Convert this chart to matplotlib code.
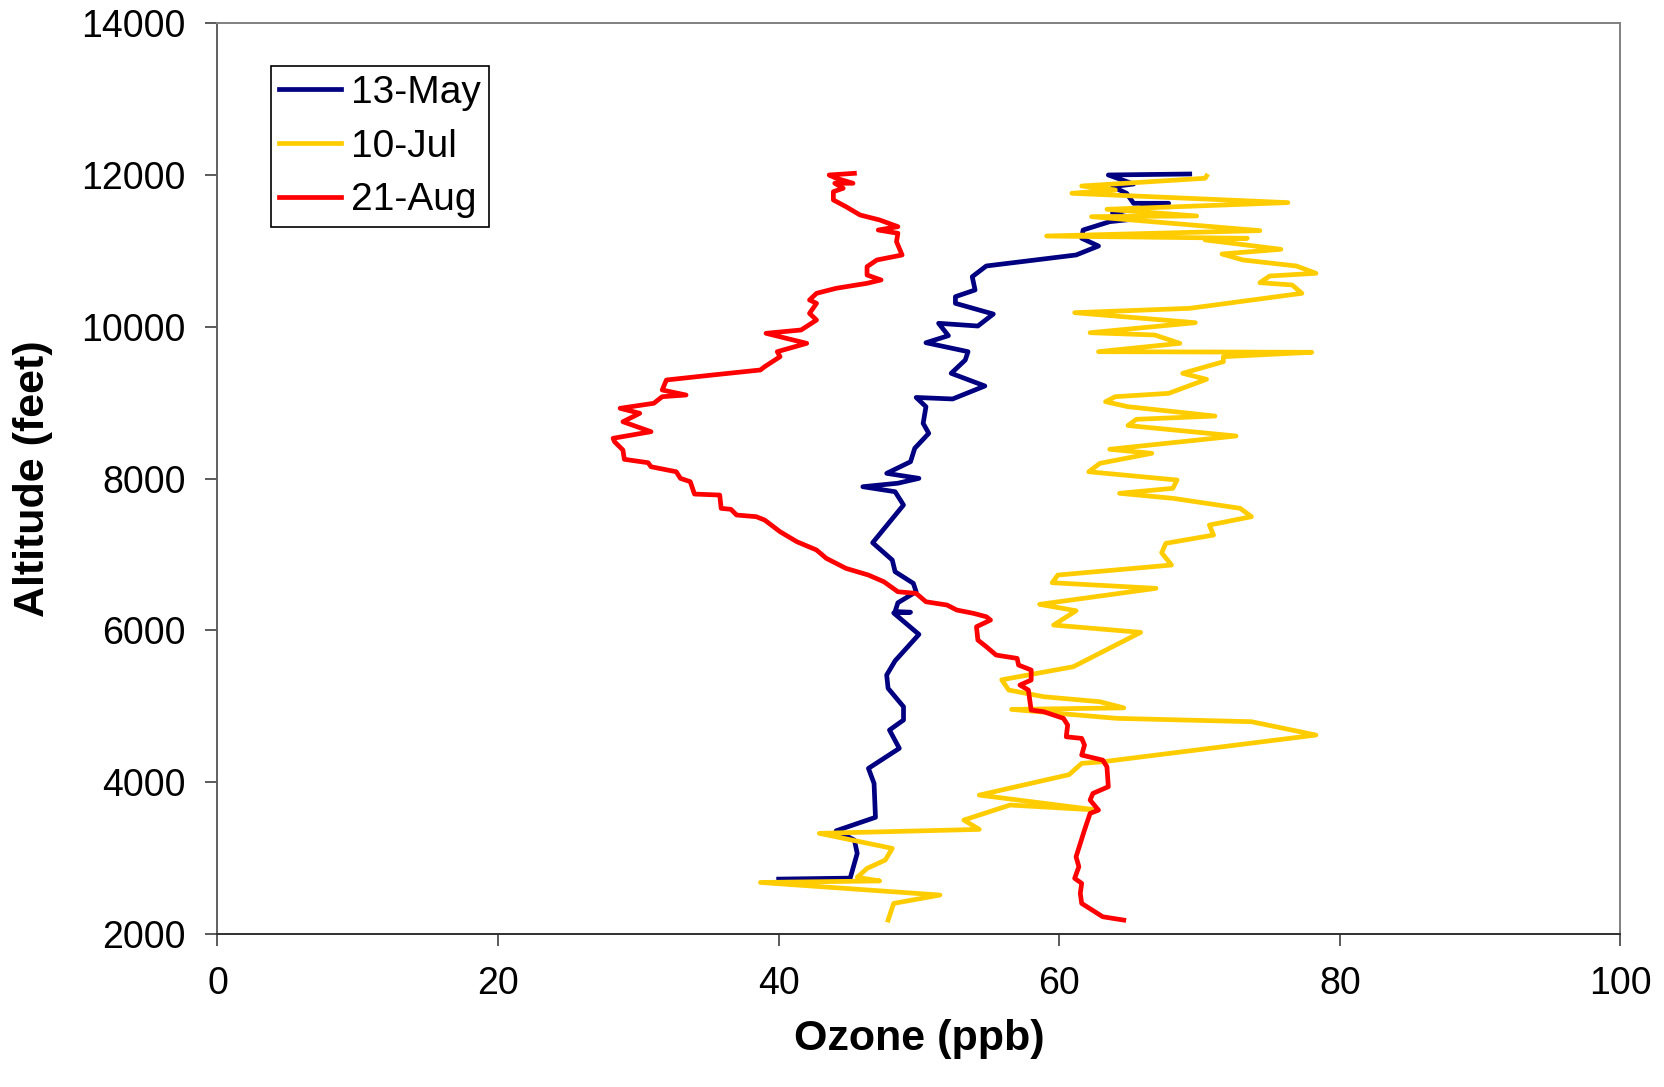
import matplotlib
matplotlib.use('Agg')
import matplotlib.pyplot as plt

plt.rcParams['font.family'] = ['Liberation Sans', 'DejaVu Sans']

# 13-May profile (altitude ft, ozone ppb)
may_alt = [2724, 2737, 3063, 3238, 3361, 3538, 3985, 4183, 4447, 4688, 4820, 4995,
           5238, 5413, 5600, 5948, 6230, 6240, 6250, 6365, 6510, 6621, 6774, 6928,
           7156, 7653, 7828, 7894, 7940, 8004, 8070, 8223, 8400, 8597, 8729, 8948,
           9070, 9050, 9221, 9388, 9563, 9673, 9791, 9884, 10047, 10011, 10169,
           10310, 10398, 10486, 10661, 10802, 10947, 11065, 11167, 11276, 11386,
           11417, 11500, 11628, 11628, 11760, 11847, 11882, 12001, 12014]
may_o3 = [40.0, 45.1, 45.6, 45.4, 44.1, 46.9, 46.8, 46.4, 48.6, 47.9, 48.9, 48.9,
          47.8, 47.7, 48.3, 50.0, 48.2, 49.4, 48.3, 48.5, 49.8, 49.6, 48.3, 48.1,
          46.7, 48.9, 48.3, 46.0, 48.5, 50.0, 47.7, 49.4, 49.7, 50.7, 50.3, 50.5,
          49.8, 52.4, 54.7, 52.3, 53.3, 53.5, 50.5, 52.1, 51.4, 54.2, 55.3,
          52.6, 52.6, 54.0, 53.8, 54.8, 61.2, 62.8, 61.6, 61.7, 63.6,
          65.2, 63.8, 67.8, 65.3, 64.8, 63.8, 65.3, 63.5, 69.3]

# 10-Jul profile
jul_alt = [2184, 2404, 2514, 2680, 2700, 2747, 2865, 2975, 3129, 3327, 3379, 3502,
           3700, 3634, 3831, 4100, 4249, 4270, 4622, 4798, 4842, 4960, 4980, 5061,
           5127, 5215, 5350, 5522, 5975, 6071, 6260, 6344, 6555, 6629, 6730, 6862,
           7024, 7148, 7257, 7389, 7499, 7609, 7741, 7807, 7873, 7982, 8091, 8202,
           8334, 8387, 8562, 8700, 8782, 8825, 8948, 9014, 9080, 9124, 9309, 9388,
           9541, 9607, 9665, 9673, 9783, 9893, 9923, 10055, 10187, 10244, 10442,
           10552, 10582, 10670, 10706, 10802, 10881, 10960, 11022, 11145, 11167,
           11197, 11268, 11452, 11461, 11549, 11637, 11760, 11804, 11856, 11958, 11988]
jul_o3 = [47.8, 48.2, 51.5, 38.7, 47.2, 45.6, 46.3, 47.6, 48.1, 42.9, 54.3, 53.2,
          56.5, 62.7, 54.3, 60.7, 61.6, 63.1, 78.3, 73.7, 64.1, 56.6, 64.6, 62.9,
          58.9, 56.4, 55.9, 61.0, 65.8, 59.6, 61.2, 58.6, 66.9, 59.5, 59.9, 68.0,
          67.3, 67.6, 71.0, 70.7, 73.7, 72.9, 68.1, 64.3, 68.1, 68.4, 62.1, 62.9,
          66.6, 63.6, 72.6, 64.9, 65.5, 71.1, 64.9, 63.3, 64.0, 67.8, 70.5, 68.8,
          71.7, 71.7, 78.0, 62.8, 68.6, 66.8, 62.2, 69.7, 61.1, 69.3, 77.3,
          76.6, 74.3, 75.0, 78.3, 76.9, 73.1, 71.6, 75.8, 70.4, 73.4,
          59.1, 74.3, 62.3, 69.8, 63.4, 76.3, 60.9, 64.0, 61.6, 70.4, 70.5]

# 21-Aug profile
aug_alt = [2184, 2228, 2404, 2536, 2668, 2734, 2887, 3018, 3194, 3370, 3590, 3633,
           3765, 3853, 3941, 4204, 4292, 4358, 4490, 4578, 4599, 4754, 4842, 4929,
           4951, 5215, 5281, 5347, 5479, 5544, 5632, 5676, 5786, 5874, 6049, 6137,
           6181, 6225, 6269, 6335, 6378, 6489, 6510, 6642, 6730, 6818, 6950, 7060,
           7169, 7301, 7455, 7499, 7521, 7596, 7609, 7784, 7797, 7960, 8004, 8091,
           8157, 8210, 8255, 8377, 8487, 8532, 8619, 8750, 8861, 8927, 8993, 9080,
           9102, 9168, 9300, 9366, 9432, 9475, 9607, 9673, 9783, 9915, 9959, 10090,
           10178, 10310, 10354, 10442, 10508, 10574, 10618, 10683, 10793, 10881,
           10947, 11122, 11233, 11276, 11320, 11408, 11474, 11583, 11672, 11781,
           11826, 11892, 11892, 11958, 12001, 12023]
aug_o3 = [64.6, 63.1, 61.6, 61.5, 61.6, 61.1, 61.4, 61.2, 61.5, 61.8, 62.2, 62.8,
          62.2, 62.4, 63.5, 63.4, 63.1, 61.6, 61.8, 61.6, 60.5, 60.6, 60.3, 58.9,
          58.0, 57.8, 57.2, 58.0, 58.0, 57.1, 57.0, 55.5, 54.8, 54.2, 54.1, 55.1,
          54.8, 53.9, 52.7, 52.0, 50.5, 49.8, 48.5, 47.5, 46.4, 44.8, 43.4, 42.7,
          41.3, 40.1, 39.0, 38.4, 37.0, 36.6, 35.9, 35.8, 34.0, 33.7, 33.0, 32.7,
          30.9, 30.7, 29.0, 28.9, 28.3, 28.2, 30.9, 28.9, 30.1, 28.7, 31.1, 31.7,
          33.4, 31.7, 32.0, 35.3, 38.7, 39.0, 40.1, 39.9, 42.0, 39.1, 41.6, 42.7,
          42.2, 42.7, 42.2, 42.7, 44.1, 46.3, 47.3, 46.3, 46.3, 47.0,
          48.8, 48.4, 48.5, 47.1, 48.5, 47.2, 45.8, 44.8, 43.9, 43.9,
          44.6, 44.0, 45.3, 44.1, 43.6, 45.4]

labels = ['13-May', '10-Jul', '21-Aug']
colors = ['#000080', '#FFCC00', '#FF0000']

fig = plt.figure(figsize=(16.64, 10.87), dpi=100)
ax = fig.add_axes([0.1307, 0.1407, 0.8431, 0.8379])

ax.plot(may_o3, may_alt, color=colors[0], lw=3.4, label=labels[0])
ax.plot(jul_o3, jul_alt, color=colors[1], lw=3.4, label=labels[1])
ax.plot(aug_o3, aug_alt, color=colors[2], lw=3.4, label=labels[2])

ax.set_xlim(0, 100)
ax.set_ylim(2000, 14000)
ax.set_xticks(range(0, 101, 20))
ax.set_yticks(range(2000, 14001, 2000))
ax.tick_params(direction='out', length=8.5, width=1.2, labelsize=27, pad=14.5,
               color='#404040')

for s in ['top', 'right']:
    ax.spines[s].set_color('#808080')
    ax.spines[s].set_linewidth(1.4)
ax.spines['left'].set_color('#606060')
ax.spines['bottom'].set_color('#303030')
ax.spines['left'].set_linewidth(1.4)
ax.spines['bottom'].set_linewidth(1.4)

ax.set_xlabel('Ozone (ppb)', fontsize=31, fontweight='bold', labelpad=12)
ax.set_ylabel('Altitude (feet)', fontsize=31, fontweight='bold', labelpad=20)

leg = ax.legend(loc='upper left', bbox_to_anchor=(0.0378, 0.953), fontsize=28,
                handlelength=1.6, handletextpad=0.25, labelspacing=0.46,
                borderpad=0.22, borderaxespad=0, fancybox=False, framealpha=1)
leg.get_frame().set_edgecolor('black')
leg.get_frame().set_linewidth(1.2)

fig.savefig('out.png', dpi=100)
